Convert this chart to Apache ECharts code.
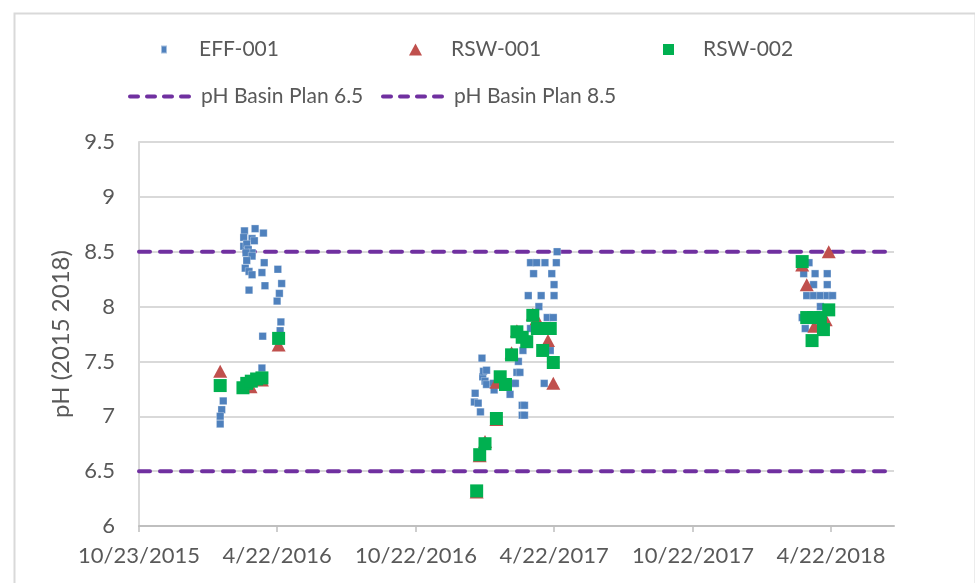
<!DOCTYPE html>
<html>
<head>
<meta charset="utf-8">
<script src="https://cdn.jsdelivr.net/npm/echarts@6/dist/echarts.min.js"></script>
<style>
  html, body { margin: 0; padding: 0; background: #fff; }
  #chart { width: 975px; height: 583px; }
</style>
</head>
<body>
<div id="chart"></div>
<script>
// ---------- DATA ----------
const xTickLabels = ['10/23/2015', '4/22/2016', '10/22/2016', '4/22/2017', '10/22/2017', '4/22/2018'];
const yTickMin = 6, yTickMax = 9.5, yTickStep = 0.5;
const xAxisEndDate = '2018-07-14';

const effDates = [
  '2016-03-10','2016-03-24','2016-04-04','2016-03-09','2016-03-20','2016-03-23','2016-03-09','2016-03-13',
  '2016-03-15','2016-03-20','2016-03-12','2016-03-20','2016-03-13','2016-04-05','2016-03-11','2016-03-16',
  '2016-03-20','2016-04-02','2016-04-23','2016-04-28','2016-04-06','2016-03-16','2016-04-25','2016-04-22',
  '2016-04-27','2016-04-26','2016-04-03','2016-04-02','2016-02-11','2016-02-09','2016-02-07','2016-02-07',
  '2017-01-07','2017-01-08','2017-01-12','2017-01-15','2017-01-17','2017-01-18','2017-01-19','2017-01-21',
  '2017-01-23','2017-01-23','2017-02-01','2017-02-02','2017-02-23','2017-02-28','2017-03-02','2017-03-04',
  '2017-03-06','2017-03-08','2017-03-11','2017-03-11','2017-03-14','2017-03-14','2017-03-12','2017-03-19',
  '2017-03-22','2017-03-22','2017-03-26','2017-03-30','2017-04-02','2017-04-05','2017-04-09','2017-04-10',
  '2017-04-13','2017-04-17','2017-04-19','2017-04-21','2017-04-22','2017-04-22','2017-04-25','2017-04-26',
  '2018-03-24','2018-03-17','2018-04-01','2018-04-17','2018-03-30','2018-04-17','2018-03-21','2018-03-30',
  '2018-04-08','2018-04-17','2018-04-24','2018-04-08','2018-03-15','2018-03-19'
];
const effPH = [
  8.69, 8.71, 8.67, 8.63, 8.62, 8.60, 8.55, 8.57,
  8.52, 8.49, 8.49, 8.46, 8.42, 8.40, 8.35, 8.32,
  8.29, 8.31, 8.34, 8.21, 8.19, 8.15, 8.12, 8.05,
  7.86, 7.78, 7.73, 7.44, 7.14, 7.06, 7.00, 6.93,
  7.13, 7.21, 7.12, 7.04, 7.53, 7.36, 7.41, 7.32,
  7.42, 7.29, 7.30, 7.24, 7.20, 7.30, 7.30, 7.40,
  7.50, 7.40, 7.10, 7.01, 7.10, 7.01, 7.60, 8.10,
  8.40, 7.80, 8.30, 8.40, 8.00, 8.10, 7.30, 8.40,
  7.90, 7.60, 8.30, 7.90, 8.20, 8.10, 8.40, 8.50,
  8.40, 8.30, 8.30, 8.30, 8.20, 8.20, 8.10, 8.10,
  8.10, 8.10, 8.10, 8.00, 7.90, 7.80
];

const rsw1Dates = [
  '2016-02-07','2016-03-11','2016-03-18','2016-04-02','2016-04-24',
  '2017-01-10','2017-01-14','2017-01-21','2017-02-05','2017-02-05','2017-02-25','2017-03-04',
  '2017-03-25','2017-03-30','2017-04-14','2017-04-21',
  '2018-03-15','2018-03-21','2018-03-31','2018-04-15','2018-04-19'
];
const rsw1PH = [
  7.41, 7.29, 7.27, 7.33, 7.65,
  6.31, 6.64, 6.77, 6.97, 7.31, 7.58, 7.78,
  7.93, 7.89, 7.69, 7.30,
  8.38, 8.20, 7.82, 7.88, 8.50
];

const rsw2Dates = [
  '2016-02-07','2016-03-08','2016-03-13','2016-03-19','2016-03-26','2016-04-02','2016-04-24',
  '2017-01-10','2017-01-14','2017-01-21','2017-02-05','2017-02-10','2017-02-17','2017-02-25',
  '2017-03-04','2017-03-11','2017-03-17','2017-03-25','2017-03-31','2017-04-08','2017-04-17',
  '2017-04-07','2017-04-21',
  '2018-03-15','2018-03-21','2018-03-30','2018-04-08','2018-04-12','2018-03-28','2018-04-19'
];
const rsw2PH = [
  7.28, 7.26, 7.30, 7.32, 7.34, 7.35, 7.71,
  6.32, 6.65, 6.75, 6.98, 7.36, 7.29, 7.56,
  7.77, 7.72, 7.68, 7.92, 7.80, 7.80, 7.80,
  7.60, 7.49,
  8.41, 7.90, 7.90, 7.90, 7.79, 7.69, 7.97
];

const basinLow = 6.5;
const basinHigh = 8.5;

// ---------- HELPERS ----------
const baseMs = Date.UTC(2015, 9, 23);
function dayOfIso(s) {
  const p = s.split('-').map(Number);
  return (Date.UTC(p[0], p[1] - 1, p[2]) - baseMs) / 864e5;
}
function dayOfUS(s) {
  const p = s.split('/').map(Number);
  return (Date.UTC(p[2], p[0] - 1, p[1]) - baseMs) / 864e5;
}
const xTickValues = xTickLabels.map(dayOfUS);
const xMin = xTickValues[0];
const xMax = dayOfIso(xAxisEndDate);
function pairs(dates, vals) { return dates.map((d, i) => [dayOfIso(d), vals[i]]); }

const textColor = '#595959';
const fontFamily = 'Lato, "Liberation Sans", sans-serif';
const purple = '#7030A0';
const legendText = (pad) => ({ color: textColor, fontSize: 21, fontFamily, padding: [0, 0, 0, pad] });
const legendLine = { color: purple, width: 4, type: [8, 9], cap: 'round' };

const chart = echarts.init(document.getElementById('chart'), null, { renderer: 'canvas' });
chart.setOption({
  animation: false,
  backgroundColor: '#ffffff',
  graphic: [{
    type: 'rect', left: 12, top: 11, silent: true, z: -10,
    shape: { width: 961, height: 600 },
    style: { fill: 'none', stroke: '#d9d9d9', lineWidth: 2 }
  }],
  grid: { left: 139, right: 81, top: 142, bottom: 57, containLabel: false, outerBoundsMode: 'none' },
  legend: [
    { data: ['EFF-001'], left: 155, top: 34, itemWidth: 6, itemHeight: 8, icon: 'rect',
      textStyle: legendText(27) },
    { data: ['RSW-001'], left: 404, top: 34, itemWidth: 13, itemHeight: 12, icon: 'triangle',
      textStyle: legendText(24) },
    { data: ['RSW-002'], left: 658, top: 34, itemWidth: 11, itemHeight: 11, icon: 'rect',
      textStyle: legendText(24) },
    { data: ['pH Basin Plan 6.5'], left: 123, top: 81, itemWidth: 66, itemHeight: 2,
      lineStyle: legendLine, textStyle: legendText(0) },
    { data: ['pH Basin Plan 8.5'], left: 376, top: 81, itemWidth: 66, itemHeight: 2,
      lineStyle: legendLine, textStyle: legendText(0) }
  ],
  xAxis: {
    type: 'value', min: xMin, max: xMax, interval: 182.5,
    axisLine: { show: true, lineStyle: { color: '#bfbfbf', width: 2 } },
    axisTick: { show: true, length: 6, customValues: xTickValues, lineStyle: { color: '#bfbfbf', width: 1.5 } },
    axisLabel: {
      customValues: xTickValues, margin: 19, color: textColor, fontSize: 22, fontFamily,
      formatter: function (v) {
        const i = xTickValues.findIndex(t => Math.abs(t - v) < 1);
        return i >= 0 ? xTickLabels[i] : '';
      }
    },
    splitLine: { show: false }
  },
  yAxis: {
    type: 'value', min: yTickMin, max: yTickMax, interval: yTickStep,
    name: 'pH (2015 2018)', nameLocation: 'middle', nameGap: 61,
    nameTextStyle: { color: textColor, fontSize: 24, fontFamily },
    axisLine: { show: true, lineStyle: { color: '#d9d9d9', width: 2 } },
    axisTick: { show: false },
    axisLabel: { color: textColor, fontSize: 22, fontFamily, margin: 24 },
    splitLine: { show: true, lineStyle: { color: '#d9d9d9', width: 2 } }
  },
  series: [
    {
      name: 'EFF-001', type: 'scatter', z: 3, symbol: 'rect', symbolSize: 7.5,
      itemStyle: { color: '#4F81BD', opacity: 1, borderColor: 'rgba(255,255,255,0.5)', borderWidth: 0.6 },
      data: pairs(effDates, effPH)
    },
    {
      name: 'RSW-001', type: 'scatter', z: 4, symbol: 'triangle', symbolSize: [14, 13],
      itemStyle: { color: '#C0504D', opacity: 1 },
      data: pairs(rsw1Dates, rsw1PH)
    },
    {
      name: 'RSW-002', type: 'scatter', z: 5, symbol: 'rect', symbolSize: 13,
      itemStyle: { color: '#00B050', opacity: 1 },
      data: pairs(rsw2Dates, rsw2PH)
    },
    {
      name: 'pH Basin Plan 6.5', type: 'line', z: 2, symbol: 'none', color: purple,
      lineStyle: { color: purple, width: 4, type: [11, 10], cap: 'round' },
      data: [[xMin, basinLow], [xMax, basinLow]]
    },
    {
      name: 'pH Basin Plan 8.5', type: 'line', z: 2, symbol: 'none', color: purple,
      lineStyle: { color: purple, width: 4, type: [11, 10], cap: 'round' },
      data: [[xMin, basinHigh], [xMax, basinHigh]]
    }
  ]
});
</script>
</body>
</html>
